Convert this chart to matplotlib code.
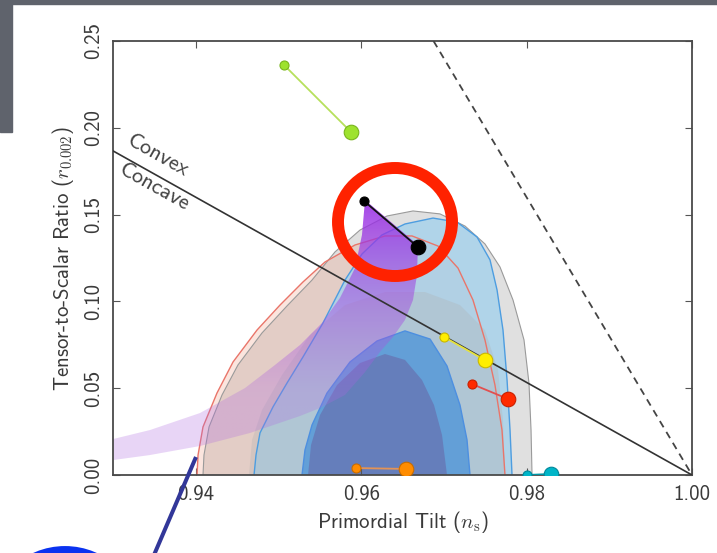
import numpy as np
import matplotlib
matplotlib.use("Agg")
import matplotlib.pyplot as plt
from matplotlib.patches import Polygon, Ellipse, Rectangle
from matplotlib.lines import Line2D
from matplotlib.transforms import Affine2D

plt.rcParams['font.family'] = ['cmss10', 'DejaVu Sans']
plt.rcParams['mathtext.fontset'] = 'cm'
plt.rcParams['axes.unicode_minus'] = False

W, H = 717, 553

# --- likelihood contours (n_s, r) ---
gray95_ns = [0.94088, 0.94100, 0.94161, 0.94318, 0.94511, 0.94801, 0.95104, 0.95406, 0.95684, 0.95986, 0.96313,
             0.96627, 0.96953, 0.97256, 0.97497, 0.97679, 0.97836, 0.97969, 0.98029, 0.98054, 0.98066]
gray95_r = [0.0, 0.0115, 0.0277, 0.0461, 0.0634, 0.0818, 0.0974, 0.1123, 0.1285, 0.1411, 0.1492,
            0.1521, 0.1504, 0.1434, 0.1331, 0.1198, 0.1008, 0.0778, 0.0530, 0.0259, 0.0]

red95_ns = [0.94016, 0.94028, 0.94088, 0.94257, 0.94451, 0.94741, 0.95019, 0.95297, 0.95563, 0.95926,
            0.96288, 0.96615, 0.96929, 0.97171, 0.97352, 0.97497, 0.97618, 0.97703, 0.97739]
red95_r = [0.0, 0.0115, 0.0277, 0.0472, 0.0651, 0.0835, 0.0979, 0.1112, 0.1227, 0.1325,
           0.1377, 0.1377, 0.1319, 0.1192, 0.1008, 0.0778, 0.0518, 0.0259, 0.0]

gray68_ns = [0.94644, 0.94681, 0.94801, 0.95043, 0.95382, 0.95805, 0.96288, 0.96772, 0.97195, 0.97497,
             0.97655, 0.97715, 0.97739]
gray68_r = [0.0, 0.0202, 0.0374, 0.0576, 0.0807, 0.0979, 0.1054, 0.1054, 0.0979, 0.0835,
            0.0605, 0.0317, 0.0]

blue95_ns = [0.94705, 0.94729, 0.94777, 0.94934, 0.95104, 0.95297, 0.95539, 0.95805, 0.96010, 0.96252,
             0.96530, 0.96869, 0.97159, 0.97401, 0.97558, 0.97643, 0.97715, 0.97764, 0.97800, 0.97824]
blue95_r = [0.0, 0.0115, 0.0242, 0.0392, 0.0530, 0.0680, 0.0876, 0.1123, 0.1273, 0.1383,
            0.1446, 0.1480, 0.1457, 0.1371, 0.1239, 0.1066, 0.0835, 0.0547, 0.0259, 0.0]

blue68_ns = [0.95285, 0.95321, 0.95406, 0.95587, 0.95865, 0.96192, 0.96530, 0.96833, 0.97038, 0.97195,
             0.97280, 0.97316]
blue68_r = [0.0, 0.0144, 0.0288, 0.0472, 0.0651, 0.0772, 0.0830, 0.0783, 0.0628, 0.0403, 0.0202, 0.0]

core_ns = [0.95358, 0.95394, 0.95503, 0.95708, 0.95986, 0.96288, 0.96530, 0.96736, 0.96881, 0.96978, 0.97038]
core_r = [0.0, 0.0173, 0.0346, 0.0518, 0.0645, 0.0697, 0.0663, 0.0547, 0.0403, 0.0230, 0.0]

# --- model band (upper edge, then lower edge) ---
band_top_ns = [0.96047, 0.96010, 0.95926, 0.95744, 0.95527, 0.95261, 0.94959, 0.94596, 0.94052, 0.93447, 0.93000]
band_top_r = [0.1584, 0.1383, 0.1192, 0.1020, 0.0876, 0.0749, 0.0634, 0.0501, 0.0357, 0.0259, 0.0207]
band_bot_ns = [0.96687, 0.96675, 0.96627, 0.96530, 0.96385, 0.96228, 0.96047, 0.95805, 0.95503, 0.95261,
               0.94656, 0.94052, 0.93447, 0.93000]
band_bot_r = [0.1325, 0.1152, 0.1008, 0.0893, 0.0795, 0.0709, 0.0593, 0.0461, 0.0386, 0.0340,
              0.0242, 0.0167, 0.0115, 0.0086]

# --- model predictions: (N=50, N=60) ---
models = {
    'green':  ([0.95067, 0.95877], [0.2362, 0.1976]),
    'black':  ([0.96035, 0.96687], [0.1578, 0.1313]),
    'yellow': ([0.97002, 0.97497], [0.0795, 0.0662]),
    'red':    ([0.97340, 0.97776], [0.0524, 0.0438]),
    'orange': ([0.95938, 0.96542], [0.0040, 0.0035]),
    'cyan':   ([0.98005, 0.98296], [0.0, 0.0006]),
}
model_style = {
    'green':  ('#b6e05c', '#9ee22e', '#79b51c'),
    'black':  ('#111111', '#000000', '#000000'),
    'yellow': ('#e6e23c', '#ffee00', '#c9b800'),
    'red':    ('#e25050', '#ff2a00', '#c92000'),
    'orange': ('#e39356', '#ff8c00', '#c86c00'),
    'cyan':   ('#0097a7', '#00b5c8', '#00879a'),
}

convex_ns = [0.93, 1.00]
convex_r = [0.1867, 0.0]
dashed_ns = [0.96875, 1.00]
dashed_r = [0.25, 0.0]

xticks = [0.94, 0.96, 0.98, 1.00]
xtick_labels = ['0.94', '0.96', '0.98', '1.00']
yticks = [0.00, 0.05, 0.10, 0.15, 0.20, 0.25]
ytick_labels = ['0.00', '0.05', '0.10', '0.15', '0.20', '0.25']

fig = plt.figure(figsize=(W / 100, H / 100), dpi=100)
ax = fig.add_axes([113 / W, 78 / H, 579 / W, 434 / H])

# filled regions
ax.fill(gray95_ns, gray95_r, color='#e0e0e0', lw=0, zorder=1)
ax.fill(red95_ns, red95_r, color='#f08a6c', alpha=0.22, lw=0, zorder=1.1)
ax.fill(blue95_ns, blue95_r, color='#a5d2ec', alpha=0.8, lw=0, zorder=1.2)
ax.fill(gray68_ns, gray68_r, color='#b0b0b0', alpha=0.3, lw=0, zorder=1.3)
ax.fill(blue68_ns, blue68_r, color='#5b9bd8', alpha=0.9, lw=0, zorder=1.4)
ax.fill(core_ns, core_r, color='#6679b6', alpha=0.85, lw=0, zorder=1.5)

# contour outlines
ax.plot(gray95_ns, gray95_r, color='#9a9a9a', lw=0.8, zorder=1.6)
ax.plot(red95_ns, red95_r, color='#e9756a', lw=1.0, zorder=1.7)
ax.plot(blue95_ns, blue95_r, color='#4d9de0', lw=1.0, zorder=1.7)
ax.plot(blue68_ns, blue68_r, color='#4d8fe0', lw=1.0, zorder=1.7)

# purple band with a vertical gradient
band_xy = np.column_stack([band_top_ns + band_bot_ns[::-1], band_top_r + band_bot_r[::-1]])
band_patch = Polygon(band_xy, closed=True, transform=ax.transData, fc='none', ec='none')
rr = np.linspace(0, 0.25, 300)
grad = np.zeros((300, 2, 4))
grad[:, :, 0] = np.interp(rr, [0.04, 0.16], [175, 150])[:, None] / 255
grad[:, :, 1] = np.interp(rr, [0.04, 0.16], [105, 40])[:, None] / 255
grad[:, :, 2] = np.interp(rr, [0.04, 0.16], [225, 228])[:, None] / 255
grad[:, :, 3] = np.interp(rr, [0.05, 0.10, 0.16], [0.28, 0.5, 0.88])[:, None]
im = ax.imshow(grad, extent=(0.93, 1.0, 0.0, 0.25), origin='lower', aspect='auto',
               interpolation='bilinear', zorder=2)
im.set_clip_path(band_patch)

# convex / concave boundary and r = 8(1 - n_s)
ax.plot(convex_ns, convex_r, color='#333333', lw=1.2, zorder=3)
ax.plot(dashed_ns, dashed_r, color='#444444', lw=1.3, ls=(0, (4, 3)), zorder=3)

for name, (ns, r) in models.items():
    lc, fc, ec = model_style[name]
    ax.plot(ns, r, color=lc, lw=1.3, zorder=4)
    ax.plot(ns[0], r[0], 'o', ms=6.5, mfc=fc, mec=ec, mew=0.8, zorder=5)
    ax.plot(ns[1], r[1], 'o', ms=10.5, mfc=fc, mec=ec, mew=0.8, zorder=5)

ax.set_xlim(0.93, 1.0)
ax.set_ylim(0.0, 0.25)
ax.set_xticks(xticks)
ax.set_xticklabels(xtick_labels)
ax.set_yticks(yticks)
ax.set_yticklabels(ytick_labels, rotation=90, va='center')
ax.tick_params(direction='in', length=5, width=0.8, color='#555555', top=True, right=True,
               labelsize=15, labelcolor='#3a3a3a', pad=7)
for sp in ax.spines.values():
    sp.set_color('#4a4a4a')
    sp.set_linewidth(1.3)
ax.set_xlabel(r'Primordial Tilt ($n_\mathrm{s}$)', fontsize=15, color='#3a3a3a', labelpad=4)
ax.set_ylabel(r'Tensor-to-Scalar Ratio ($r_{0.002}$)', fontsize=15, color='#3a3a3a', labelpad=6)

# labels along the convex/concave line
p = ax.transData.transform(np.column_stack([convex_ns, convex_r]))
ang = np.degrees(np.arctan2(p[1, 1] - p[0, 1], p[1, 0] - p[0, 0]))
x0 = 0.9313
y0 = np.interp(x0, convex_ns, convex_r)
ax.annotate('Convex', xy=(x0, y0), xytext=(0, 7), textcoords='offset points', rotation=ang,
            rotation_mode='anchor', ha='left', va='bottom', fontsize=16, color='#444444', zorder=6)
ax.annotate('Concave', xy=(x0, y0), xytext=(1, -2), textcoords='offset points', rotation=ang,
            rotation_mode='anchor', ha='left', va='top', fontsize=16, color='#444444', zorder=6)

# marks drawn on top of the page, in pixel coordinates from the top-left
px = Affine2D().scale(1, -1).translate(0, H)
fig.add_artist(Rectangle((0, 0), W, 4, transform=px, color='#5f636c', zorder=1))
fig.add_artist(Rectangle((0, 0), 12, 132, transform=px, color='#5f636c', zorder=1))
fig.add_artist(Ellipse((395, 222), 114, 108, transform=px, fill=False, ec='#ff2200', lw=8.6, zorder=10))
fig.add_artist(Ellipse((65, 623), 140, 140, transform=px, fill=False, ec='#0a32f0', lw=10, zorder=10))
fig.add_artist(Line2D([196, 151], [457, 562], transform=px, color='#323799', lw=2.9,
                      solid_capstyle='butt', zorder=10))

fig.savefig('out.png', dpi=100)
